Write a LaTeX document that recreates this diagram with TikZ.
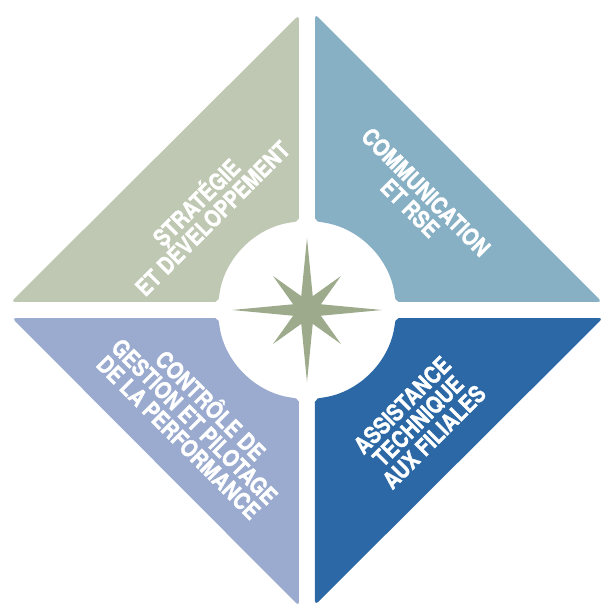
\documentclass[tikz,border=0pt]{standalone}
\usepackage{fontspec}
\newfontfamily\labfont{TeX Gyre Heros}[FakeStretch=0.84, BoldFeatures={FakeBold=1.2}]
\definecolor{sage}{HTML}{BFC8B2}
\definecolor{skyblue}{HTML}{87B0C5}
\definecolor{lavender}{HTML}{9BABCF}
\definecolor{deepblue}{HTML}{2B68A5}
\definecolor{starcol}{HTML}{9DAA8B}
\tikzset{
  quadlabel/.style={text=white, align=center, inner sep=0pt,
    font=\labfont\bfseries\fontsize{23.5pt}{22.5pt}\selectfont},
  quadrant/.pic={
    \fill[#1, rounded corners=4pt] (-8,95.67)
      arc[start angle=0, end angle=-80.5, radius=8pt]
      arc[start angle=99.5, end angle=170.5, radius=89pt]
      arc[start angle=-9.5, end angle=-90, radius=8pt]
      -- (-296,8) -- (-8,295) -- cycle;
  }
}
\begin{document}
\begin{tikzpicture}[x=1pt,y=1pt]
\useasboundingbox (-307,-295) rectangle (295,310);
\pic at (0,0) {quadrant=sage};
\pic[rotate=-90] at (0,0) {quadrant=skyblue};
\pic[rotate=90] at (0,0) {quadrant=lavender};
\pic[rotate=180] at (0,0) {quadrant=deepblue};
% compass star
\fill[starcol] (90:72pt) -- (67.5:15pt) -- (45:48pt) -- (22.5:15pt)
  -- (0:75pt) -- (-22.5:15pt) -- (-45:48pt) -- (-67.5:15pt)
  -- (-90:72pt) -- (-112.5:15pt) -- (-135:48pt) -- (-157.5:15pt)
  -- (180:75pt) -- (157.5:15pt) -- (135:48pt) -- (112.5:15pt) -- cycle;
\node[quadlabel, rotate=45] (strat) at (-104,101) {STRATÉGIE\\ET DÉVELOPPEMENT};
\node[quadlabel, rotate=-45] (comm) at (111,110) {COMMUNICATION\\ET RSE};
\node[quadlabel, rotate=-45] (ctrl) at (-111,-110) {CONTRÔLE DE\\GESTION ET PILOTAGE\\DE LA PERFORMANCE};
\node[quadlabel, rotate=45] (assist) at (111,-111) {ASSISTANCE\\TECHNIQUE\\AUX FILIALES};
\end{tikzpicture}
\end{document}
